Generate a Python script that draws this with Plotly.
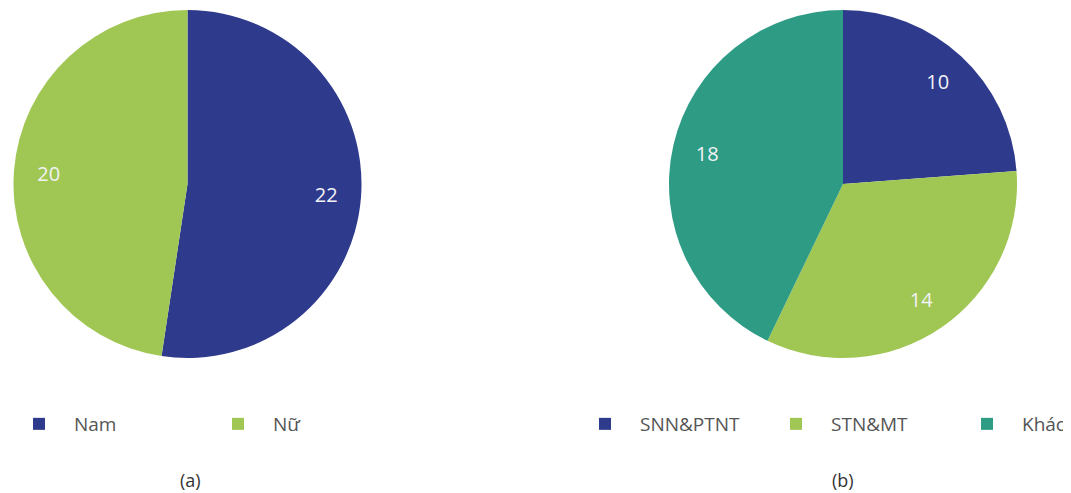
import plotly.graph_objects as go

# Data
labels_a = ["Nam", "Nữ"]
values_a = [22, 20]
labels_b = ["SNN&PTNT", "STN&MT", "Khác"]
values_b = [10, 14, 18]
captions = ["(a)", "(b)"]

colors_a = ["#2E3A8C", "#A0C653"]
colors_b = ["#2E3A8C", "#A0C653", "#2E9B85"]

# page body has an 8px margin, so figure pixels = reference pixels - 8
OFF = 8
W, H = 1071 - OFF, 493 - OFF


def px(x):
    return (x - OFF) / W


def py(y):
    return 1 - (y - OFF) / H


dom_a = dict(x=[px(13), px(362)], y=[py(358), py(10)])
dom_b = dict(x=[px(669), px(1017)], y=[py(358), py(10)])

fig = go.Figure()


def add_pie(labels, values, colors, dom, legend):
    fig.add_trace(go.Pie(
        labels=labels, values=values, sort=False, direction="clockwise",
        rotation=0, domain=dom, textinfo="none",
        marker=dict(colors=colors, line=dict(width=0)),
        legend=legend, hoverinfo="label+value",
    ))
    # transparent ring used only to place the value labels
    fig.add_trace(go.Pie(
        labels=labels, values=values, sort=False, direction="clockwise",
        rotation=0, domain=dom, hole=0.6, textinfo="value",
        textposition="inside", insidetextorientation="horizontal",
        textfont=dict(family="Open Sans", size=20, color="#F2F3F7"),
        marker=dict(colors=["rgba(0,0,0,0)"] * len(values), line=dict(width=0)),
        showlegend=False, hoverinfo="skip", legend=legend,
    ))


add_pie(labels_a, values_a, colors_a, dom_a, "legend")
add_pie(labels_b, values_b, colors_b, dom_b, "legend2")

legend_common = dict(
    orientation="h", yanchor="middle", xanchor="left",
    font=dict(family="Open Sans", size=19, color="#555555"),
    bgcolor="rgba(0,0,0,0)", entrywidthmode="pixels",
    traceorder="normal", itemwidth=60,
)

fig.update_layout(
    width=W, height=H,
    margin=dict(l=0, r=0, t=0, b=0, autoexpand=False),
    paper_bgcolor="white", plot_bgcolor="white",
    legend=dict(**legend_common, x=px(4), y=py(424), entrywidth=124),
    legend2=dict(**legend_common, x=px(570), y=py(424), entrywidth=116),
    annotations=[
        dict(text=captions[0], x=px(190), y=py(480), xref="paper", yref="paper",
             xanchor="center", yanchor="middle", showarrow=False,
             font=dict(family="Open Sans", size=18, color="#333333")),
        dict(text=captions[1], x=px(843), y=py(480), xref="paper", yref="paper",
             xanchor="center", yanchor="middle", showarrow=False,
             font=dict(family="Open Sans", size=18, color="#333333")),
    ],
)

fig.write_html("out.html")
